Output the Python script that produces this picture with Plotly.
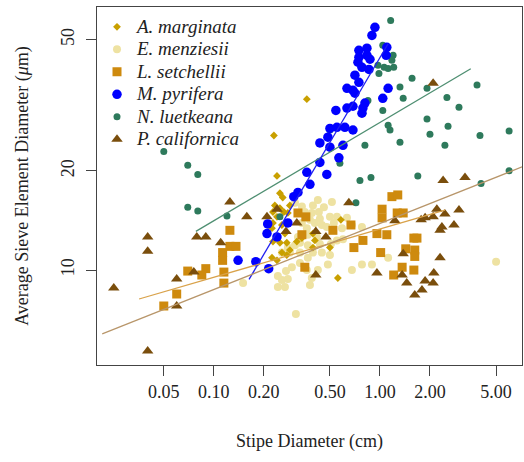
import plotly.graph_objects as go

# ---------------- data (stipe diameter cm, sieve element diameter um) ----------------
am_x = [0.363, 0.230, 0.240, 0.250, 0.260, 0.233, 0.227, 0.250, 0.264, 0.240, 0.227, 0.224,
        0.257, 0.268, 0.227, 0.250, 0.275, 0.257, 0.275, 0.240, 0.316, 0.339, 0.395, 0.406,
        0.500, 0.582, 0.558, 0.287, 0.279, 0.395, 0.224, 0.287]
am_y = [33.0, 25.6, 19.3, 17.1, 16.6, 15.7, 15.0, 15.4, 15.0, 14.5, 13.9, 13.4,
        13.7, 12.9, 12.2, 12.1, 12.1, 11.3, 11.1, 10.7, 12.2, 12.5, 12.9, 12.3,
        11.7, 14.2, 9.46, 15.7, 14.9, 11.7, 10.9, 11.5]

em_x = [0.308, 0.339, 0.395, 0.423, 0.514, 0.353, 0.389, 0.429, 0.460, 0.500, 0.551, 0.435,
        0.379, 0.339, 0.363, 0.406, 0.447, 0.479, 0.528, 0.591, 0.633, 0.678, 0.779, 0.321,
        0.368, 0.417, 0.330, 0.368, 0.435, 0.507, 0.551, 0.599, 0.279, 0.308, 0.257, 0.287,
        0.330, 0.395, 0.447, 0.500, 0.368, 0.330, 0.295, 0.272, 0.243, 0.243, 0.268, 0.257,
        0.279, 0.363, 0.389, 0.423, 0.379, 0.486, 0.678, 0.779, 0.895, 1.12, 0.312, 0.150, 5.00]
em_y = [16.0, 15.6, 15.7, 16.3, 16.1, 15.0, 14.9, 15.0, 15.5, 14.5, 14.5, 14.3,
        14.2, 13.9, 13.4, 13.9, 13.7, 13.5, 13.9, 13.4, 14.4, 13.7, 13.5, 12.6,
        12.8, 12.6, 12.1, 11.9, 12.0, 12.0, 12.3, 12.4, 11.7, 11.9, 11.3, 11.3,
        11.3, 11.3, 11.3, 11.1, 10.9, 10.5, 10.2, 9.93, 9.59, 8.88, 8.88, 9.33,
        9.39, 10.0, 9.46, 10.0, 9.01, 10.4, 10.0, 10.4, 10.4, 10.9, 7.36, 9.13, 10.6]

ls_x = [0.125, 0.125, 0.136, 0.113, 0.113, 0.115, 0.115, 0.0895, 0.0847, 0.0697, 0.0598, 0.0500,
        0.321, 0.358, 0.339, 0.353, 0.521, 0.669, 0.790, 0.697, 1.03, 1.03, 1.18, 1.28,
        0.959, 1.10, 1.01, 1.21, 1.27, 1.38, 1.36, 1.60, 1.43, 1.62, 1.60, 1.67, 1.62]
ls_y = [13.2, 11.8, 11.8, 11.3, 10.7, 9.86, 9.13, 10.1, 9.66, 9.93, 8.46, 7.78,
        14.9, 14.5, 12.8, 10.2, 13.2, 13.7, 12.3, 11.7, 15.3, 14.4, 16.7, 16.9,
        12.9, 12.8, 11.3, 9.66, 14.9, 14.9, 10.2, 10.0, 11.6, 11.5, 12.5, 12.5, 11.0]

mp_x = [0.933, 0.895, 0.747, 0.835, 1.10, 0.747, 0.835, 0.871, 0.737, 0.779, 0.859, 0.707,
        0.747, 0.633, 0.688, 0.707, 1.12, 1.04, 0.812, 0.688, 0.633, 0.543, 0.790, 0.779,
        0.500, 0.551, 0.615, 0.688, 0.486, 0.435, 0.500, 0.599, 0.566, 0.435, 0.363, 0.479,
        0.379, 0.321, 0.303, 0.279, 0.211, 0.209, 0.240, 0.140, 0.179, 0.214, 1.09]
mp_y = [54.5, 51.5, 46.4, 47.1, 47.4, 44.2, 44.8, 43.6, 42.7, 41.2, 40.6, 39.0,
        37.1, 35.6, 35.1, 34.4, 35.6, 33.2, 32.1, 31.4, 31.0, 30.5, 31.0, 29.9,
        26.9, 27.1, 27.1, 26.6, 25.3, 24.3, 23.6, 23.9, 21.9, 21.2, 19.8, 19.5,
        18.2, 17.2, 16.7, 13.9, 13.8, 12.9, 12.6, 10.7, 10.6, 10.1, 44.8]

nl_x = [0.0500, 0.0697, 0.0801, 0.0697, 0.0801, 0.120, 0.250, 0.717, 0.758, 0.883, 0.574, 1.69,
        4.06, 5.99, 1.16, 1.04, 1.20, 1.18, 0.973, 1.06, 1.12, 1.21, 0.986, 1.56,
        1.32, 1.38, 0.847, 1.04, 0.790, 1.12, 1.15, 0.812, 1.32, 0.500, 1.92, 2.53,
        3.84, 2.99, 1.92, 2.57, 2.00, 2.46, 4.00, 5.99]
nl_y = [22.9, 20.8, 19.5, 15.5, 15.1, 14.6, 14.5, 16.0, 18.7, 19.1, 21.1, 19.3,
        18.3, 20.0, 57.2, 48.1, 44.8, 43.3, 41.8, 41.2, 40.9, 41.2, 39.5, 38.2,
        35.9, 33.2, 32.7, 30.5, 29.9, 27.5, 26.6, 23.9, 24.4, 26.6, 35.6, 33.4,
        36.4, 31.2, 28.7, 27.3, 25.8, 23.9, 25.6, 26.4]

pc_x = [0.0250, 0.0400, 0.0400, 0.0598, 0.0598, 0.0400, 0.0758, 0.0790, 0.0895, 0.110, 0.125, 0.158,
        0.209, 0.240, 0.272, 0.316, 0.411, 0.473, 0.650, 1.23, 0.959, 0.411, 1.38, 1.36,
        1.45, 1.62, 1.79, 1.87, 2.09, 2.11, 2.30, 1.77, 1.87, 2.09, 2.20, 2.46,
        2.30, 2.36, 2.79, 2.99, 2.40, 3.25, 2.09]
pc_y = [8.82, 12.6, 11.4, 9.39, 7.78, 5.68, 9.86, 12.6, 12.6, 12.1, 16.1, 14.5,
        14.5, 15.3, 13.1, 13.9, 13.1, 12.6, 16.0, 14.1, 9.79, 9.66, 11.2, 9.66,
        9.13, 8.40, 8.70, 9.26, 9.13, 9.79, 10.9, 14.2, 14.4, 14.5, 15.3, 14.8,
        13.2, 13.5, 13.7, 15.2, 18.7, 19.1, 36.9]

# fitted line end points (x0, x1), (y0, y1)
nl_fit_x = [0.078, 3.52]
nl_fit_y = [13.1, 40.8]
mp_fit_x = [0.163, 1.12]
mp_fit_y = [9.37, 48.6]
ls_fit_x = [0.0355, 2.46]
ls_fit_y = [8.17, 15.2]
pc_fit_x = [0.0213, 7.6]
pc_fit_y = [6.4, 20.8]

x_tickvals = [0.05, 0.1, 0.2, 0.5, 1, 2, 5]
x_ticktext = ["0.05", "0.10", "0.20", "0.50", "1.00", "2.00", "5.00"]
y_tickvals = [10, 20, 50]
y_ticktext = ["10", "20", "50"]

# ---------------- styles ----------------
C_AM = "#C9A000"
C_EM = "#EEE2A2"
C_LS = "#CE8A0E"
C_MP = "#0000FF"
C_NL = "#2E7A5C"
C_PC = "#7A4E0C"

FONT = "Liberation Serif, Times New Roman, serif"

fig = go.Figure()

def lname(s):
    return '<span style="font-size:19px"><i>' + s + '</i></span>'

def pts(x, y, name, color, symbol, size, rank):
    fig.add_trace(go.Scatter(
        x=x, y=y, mode="markers", name=lname(name), legendrank=rank,
        marker=dict(color=color, symbol=symbol, size=size, line=dict(width=0)),
    ))

pts(em_x, em_y, "E. menziesii", C_EM, "circle", 8, 2)
pts(am_x, am_y, "A. marginata", C_AM, "diamond", 6, 1)
pts(ls_x, ls_y, "L. setchellii", C_LS, "square", 9, 3)
pts(nl_x, nl_y, "N. luetkeana", C_NL, "circle", 7, 5)
pts(pc_x, pc_y, "P. californica", C_PC, "triangle-up", 10, 6)
pts(mp_x, mp_y, "M. pyrifera", C_MP, "circle", 9.5, 4)

def fit(x, y, color):
    fig.add_trace(go.Scatter(x=x, y=y, mode="lines", showlegend=False,
                             line=dict(color=color, width=1.3), hoverinfo="skip"))

fit(nl_fit_x, nl_fit_y, "#4F8F72")
fit(mp_fit_x, mp_fit_y, "#2020F0")
fit(ls_fit_x, ls_fit_y, "#D9A24A")
fit(pc_fit_x, pc_fit_y, "#B8966A")

axis_common = dict(
    showgrid=False, zeroline=False, showline=True, mirror=True,
    linecolor="#444444", linewidth=1.2, ticks="outside", ticklen=10,
    tickcolor="#444444", tickwidth=1.2,
    tickfont=dict(family=FONT, size=18, color="#222222"),
)

fig.update_layout(
    width=524, height=462,
    margin=dict(l=97, r=2, t=7, b=97),
    paper_bgcolor="white", plot_bgcolor="white",
    font=dict(family=FONT, size=18, color="#222222"),
    xaxis=dict(type="log", range=[-1.703, 0.855], tickvals=x_tickvals, ticktext=x_ticktext,
               title=dict(text="Stipe Diameter (cm)", font=dict(family=FONT, size=18), standoff=33),
               **axis_common),
    yaxis=dict(type="log", range=[0.712, 1.798], tickvals=y_tickvals, ticktext=y_ticktext,
               tickangle=-90, ticklabelstandoff=5,
               title=dict(text="Average Sieve Element Diameter (<i>\u03bc</i>m)",
                          font=dict(family=FONT, size=18), standoff=24),
               **axis_common),
    legend=dict(x=0.0, y=0.99, xanchor="left", yanchor="top", bgcolor="rgba(0,0,0,0)",
                font=dict(family=FONT, size=15, color="#222222"), tracegroupgap=0,
                itemsizing="trace"),
    showlegend=True,
)

fig.write_html("out.html")
